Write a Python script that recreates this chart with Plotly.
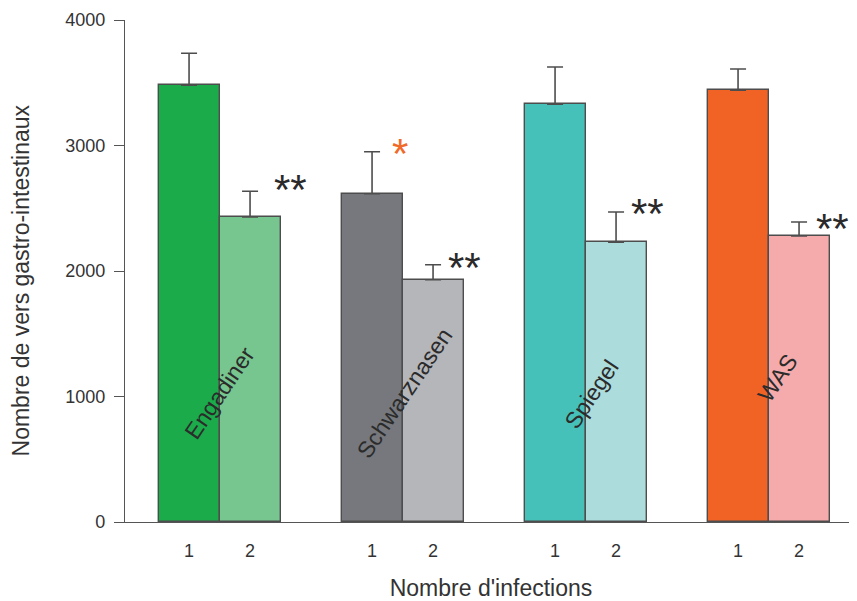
import plotly.graph_objects as go

groups = ["Engadiner", "Schwarznasen", "Spiegel", "WAS"]
tick_labels = ["1", "2"]
y_ticks = [0, 1000, 2000, 3000, 4000]
values_1 = [3480, 2615, 3330, 3440]
errors_1 = [255, 335, 295, 170]
values_2 = [2430, 1930, 2230, 2280]
errors_2 = [205, 120, 240, 110]
colors_1 = ["#1bab4b", "#76787d", "#46c1b9", "#f16325"]
colors_2 = ["#77c68f", "#b5b6ba", "#acdcdc", "#f5abab"]
stars_1 = ["", "*", "", ""]
stars_2 = ["**", "**", "**", "**"]
x_title = "Nombre d'infections"
y_title = "Nombre de vers gastro-intestinaux"

# placement styling (pixels / value units for annotations)
label_y = [1028, 1028, 1020, 1147]
label_xshift = [0, 2, 6, 9]
star2_xshift = [40, 31, 31, 33]
star2_yshift = [8, 3, 5, 0]
star1_xshift = [0, 28, 0, 0]
star1_yshift = [0, 4, 0, 0]

x1 = [3 * i + 1 for i in range(len(groups))]
x2 = [3 * i + 2 for i in range(len(groups))]

fig = go.Figure()
line_col = "#4d4d4d"
for xs, vals, errs, cols in [(x1, values_1, errors_1, colors_1), (x2, values_2, errors_2, colors_2)]:
    fig.add_trace(go.Bar(
        x=xs, y=vals, width=1.0,
        marker=dict(color=cols, line=dict(color=line_col, width=1.4)),
        error_y=dict(type="data", array=errs, arrayminus=[0] * len(errs), symmetric=False,
                     color=line_col, thickness=1.6, width=8),
        showlegend=False,
    ))

font = "Liberation Sans, Arial, sans-serif"
txt = "#333333"
anns = []
for i, g in enumerate(groups):
    anns.append(dict(x=(x1[i] + x2[i]) / 2, y=label_y[i], text=g, showarrow=False,
                     textangle=-56, xshift=label_xshift[i],
                     font=dict(family=font, size=23, color="#2b2b2b"),
                     xref="x", yref="y"))
    if stars_1[i]:
        anns.append(dict(x=x1[i], y=values_1[i] + errors_1[i], text=stars_1[i], showarrow=False,
                         xshift=star1_xshift[i], yshift=star1_yshift[i] - 6, yanchor="middle",
                         font=dict(family=font, size=42, color="#f06a2a"), xref="x", yref="y"))
    if stars_2[i]:
        anns.append(dict(x=x2[i], y=values_2[i] + errors_2[i], text=stars_2[i], showarrow=False,
                         xshift=star2_xshift[i], yshift=star2_yshift[i] - 6, yanchor="middle",
                         font=dict(family=font, size=42, color="#2a2a2a"), xref="x", yref="y"))

# y-axis title, centred where the reference has it
anns.append(dict(x=-0.142, y=1925, xref="paper", yref="y", text=y_title, showarrow=False,
                 textangle=-90, xanchor="center", yanchor="middle",
                 font=dict(family=font, size=23, color=txt)))

fig.update_layout(
    width=849, height=593,
    margin=dict(l=117, r=0, t=12, b=79),
    plot_bgcolor="white", paper_bgcolor="white",
    bargap=0,
    annotations=anns,
    font=dict(family=font, size=16, color=txt),
    xaxis=dict(
        range=[-0.05, 11.95],
        tickmode="array",
        tickvals=x1 + x2,
        ticktext=[tick_labels[0]] * 4 + [tick_labels[1]] * 4,
        ticks="", showgrid=False, zeroline=False, automargin=False,
        showline=True, linecolor="#555555", linewidth=1.4,
        tickfont=dict(size=18, color=txt),
        ticklabelstandoff=12,
        title=dict(text=x_title, font=dict(size=23, color=txt), standoff=22),
    ),
    yaxis=dict(
        range=[0, 4000],
        tickvals=y_ticks,
        ticks="outside", ticklen=10, tickcolor="#555555", tickwidth=1.4,
        showgrid=False, zeroline=False, automargin=False,
        showline=True, linecolor="#555555", linewidth=1.4,
        tickfont=dict(size=18, color=txt),
        ticklabelstandoff=5,
    ),
)

fig.write_html("out.html")
